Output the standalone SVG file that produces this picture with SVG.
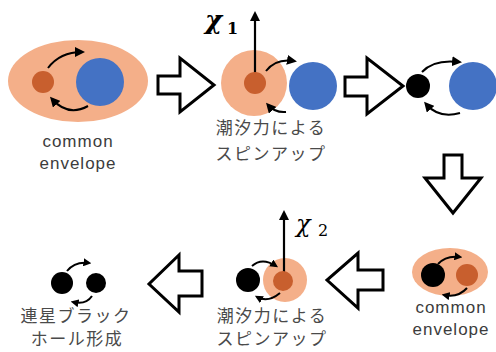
<svg xmlns="http://www.w3.org/2000/svg" width="496" height="352" viewBox="0 0 496 352">
  <style>
    .env { fill: #F4AF89; }
    .core { fill: #C85F2E; }
    .star { fill: #4472C4; }
    .bh { fill: #000000; }
    .orb { fill: none; stroke: #000; stroke-width: 2; }
    .spin { fill: none; stroke: #000; stroke-width: 2.2; }
    .step { fill: #fff; stroke: #000; stroke-width: 3; stroke-linejoin: miter; }
    .lbl { font-family: "Liberation Sans", Arial, sans-serif; font-size: 17px; letter-spacing: 1px; fill: #3c3c3c; text-anchor: middle; }
    .jp { font-family: "Noto Sans CJK JP", "Noto Sans CJK SC", sans-serif; font-size: 17px; letter-spacing: 1.5px; fill: #4a4a4a; text-anchor: middle; }
    .chi { font-family: "DejaVu Serif", "Liberation Serif", serif; font-style: italic; fill: #000; }
    .sub { font-family: "DejaVu Serif", "Liberation Serif", serif; fill: #000; }
  </style>
  <defs>
    <marker id="tip" viewBox="0 0 10 10" refX="7" refY="5" markerWidth="10" markerHeight="10" markerUnits="userSpaceOnUse" orient="auto">
      <path d="M0,0 L10,5 L0,10 z" fill="#000"/>
    </marker>
    <marker id="tipS" viewBox="0 0 10 10" refX="7" refY="5" markerWidth="8" markerHeight="8" markerUnits="userSpaceOnUse" orient="auto">
      <path d="M0,0 L10,5 L0,10 z" fill="#000"/>
    </marker>
  </defs>

  <!-- stage 1: common envelope -->
  <g id="stage1">
    <ellipse class="env" cx="78" cy="81" rx="70" ry="41"/>
    <circle class="core" cx="43" cy="82" r="11"/>
    <circle class="star" cx="100" cy="82" r="24"/>
    <path class="orb" d="M48,68 Q60,52 82,52" marker-end="url(#tip)"/>
    <path class="orb" d="M88,106 Q68,117 52,99" marker-end="url(#tip)"/>
    <text class="lbl" x="78" y="147">common</text>
    <text class="lbl" x="78" y="169">envelope</text>
  </g>

  <!-- stage 2: tidal spin-up of the first core -->
  <g id="stage2">
    <circle class="env" cx="254" cy="83" r="33"/>
    <circle class="star" cx="313" cy="86" r="24"/>
    <line class="spin" x1="255" y1="80" x2="255" y2="14" marker-end="url(#tip)"/>
    <circle class="core" cx="255" cy="83" r="11"/>
    <path class="orb" d="M266,71 Q276,58 294,61" marker-end="url(#tip)"/>
    <path class="orb" d="M286,112 Q275,113 268,105" marker-end="url(#tip)"/>
    <text class="chi" x="205" y="29" font-size="26" font-weight="bold">χ</text>
    <text class="sub" x="227" y="34" font-size="16" font-weight="bold">1</text>
    <text class="jp" x="271" y="134">潮汐力による</text>
    <text class="jp" x="271" y="160">スピンアップ</text>
  </g>

  <!-- stage 3: black hole with companion -->
  <g id="stage3">
    <circle class="bh" cx="418" cy="86" r="12"/>
    <circle class="star" cx="473" cy="86" r="24"/>
    <path class="orb" d="M422,72 Q434,59 459,62" marker-end="url(#tip)"/>
    <path class="orb" d="M460,113 Q439,119 426,104" marker-end="url(#tip)"/>
  </g>

  <!-- stage 4: second common envelope -->
  <g id="stage4">
    <ellipse class="env" cx="450" cy="272" rx="38" ry="24"/>
    <circle class="bh" cx="433" cy="275" r="12"/>
    <circle class="core" cx="467" cy="275" r="11"/>
    <path class="orb" d="M438,264 Q446,255 460,257" marker-end="url(#tipS)"/>
    <path class="orb" d="M467,288 Q458,298 444,295" marker-end="url(#tipS)"/>
    <text class="lbl" x="451" y="313">common</text>
    <text class="lbl" x="451" y="335">envelope</text>
  </g>

  <!-- stage 5: tidal spin-up of the second core -->
  <g id="stage5">
    <circle class="env" cx="285" cy="280" r="22"/>
    <circle class="bh" cx="248" cy="280" r="12"/>
    <line class="spin" x1="284" y1="279" x2="284" y2="213" marker-end="url(#tip)"/>
    <circle class="core" cx="283" cy="281" r="10"/>
    <path class="orb" d="M252,266 Q262,257 276,266" marker-end="url(#tipS)"/>
    <path class="orb" d="M280,293 Q268,303 257,297" marker-end="url(#tipS)"/>
    <text class="chi" x="296" y="232" font-size="24">χ</text>
    <text class="sub" x="318" y="236" font-size="16">2</text>
    <text class="jp" x="272" y="322">潮汐力による</text>
    <text class="jp" x="272" y="345">スピンアップ</text>
  </g>

  <!-- stage 6: binary black hole -->
  <g id="stage6">
    <circle class="bh" cx="62" cy="283" r="11"/>
    <circle class="bh" cx="96" cy="283" r="10"/>
    <path class="orb" d="M67,271 Q75,261 89,263" marker-end="url(#tipS)"/>
    <path class="orb" d="M92,296 Q86,305 73,302" marker-end="url(#tipS)"/>
    <text class="jp" x="76" y="322">連星ブラック</text>
    <text class="jp" x="77" y="345">ホール形成</text>
  </g>

  <!-- step arrows between stages -->
  <g id="connectors">
    <polygon class="step" points="158,76 180,76 180,58 214,85 180,112 180,94 158,94"/>
    <polygon class="step" points="345,77 367,77 367,58 403,86 367,114 367,96 345,96"/>
    <polygon class="step" points="444,155 462,155 462,178 481,178 453,213 425,178 444,178"/>
    <polygon class="step" points="383,270 358,270 358,253 327,280 358,308 358,290 383,290"/>
    <polygon class="step" points="202,271 179,271 179,255 149,284 179,312 179,296 202,296"/>
  </g>
</svg>
